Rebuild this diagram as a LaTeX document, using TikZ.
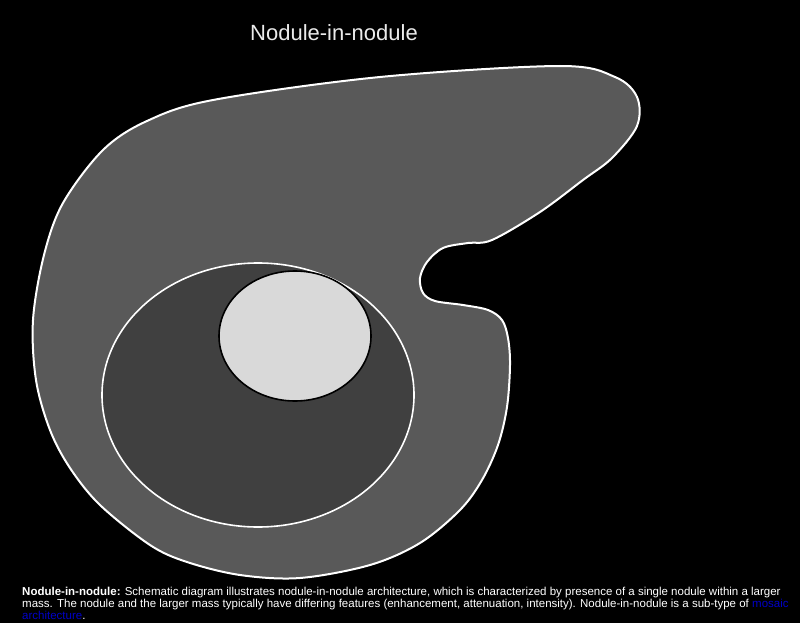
\documentclass[tikz,border=0pt]{standalone}
\usepackage{fontspec}
\setmainfont{Liberation Sans}
\newfontfamily\capfont{Liberation Sans}
\usetikzlibrary{shapes.geometric}
\definecolor{massgray}{HTML}{595959}
\definecolor{midgray}{HTML}{404040}
\definecolor{lightgray}{HTML}{D9D9D9}
\definecolor{linkblue}{HTML}{0000C8}
\tikzset{
  outline/.style={draw=white, line width=2pt, fill=massgray},
  midnod/.style={ellipse, draw=white, line width=1.6pt, fill=midgray, inner sep=0pt},
  innod/.style={ellipse, draw=black, line width=1.6pt, fill=lightgray, inner sep=0pt},
  captext/.style={text=white, inner sep=0pt, anchor=base west, font=\capfont\fontsize{11.5}{12}\selectfont}
}
\begin{document}
\begin{tikzpicture}[x=1pt,y=-1pt]
\fill[black] (0,0) rectangle (800,623);
\useasboundingbox (0,0) rectangle (800,623);
\draw[outline] plot[smooth cycle, tension=0.55] coordinates {
 (213,100) (380,77) (560,66) (615,77) (637,97) (637,126) (612,158) (583,180)
 (540,212) (492,240) (468,243) (443,248) (427,262) (420,278) (423,293) (435,301)
 (463,305) (488,310) (502,320) (508,338) (510,365) (507,407) (498,445) (482,480)
 (460,510) (420,543) (370,565) (300,578) (240,575) (187,562) (150,545) (100,505)
 (70,468) (50,430) (36,380) (33,320) (44,255) (63,203) (103,150) (147,121)};
\node[midnod, minimum width=312pt, minimum height=264pt] (mass) at (258,395) {};
\node[innod, minimum width=152pt, minimum height=130pt] (nodule) at (295,336) {};
\node[text=white!92!black, font=\fontsize{22}{26}\selectfont] (title) at (334,33) {Nodule-in-nodule};
\node[captext] (cap1) at (22,595) {\textbf{Nodule-in-nodule:} Schematic diagram illustrates nodule-in-nodule architecture, which is characterized by presence of a single nodule within a larger};
\node[captext] (cap2) at (22,607) {mass. The nodule and the larger mass typically have differing features (enhancement, attenuation, intensity). Nodule-in-nodule is a sub-type of \textcolor{linkblue}{mosaic}};
\node[captext] (cap3) at (22,619) {\textcolor{linkblue}{architecture}.};
\end{tikzpicture}
\end{document}
